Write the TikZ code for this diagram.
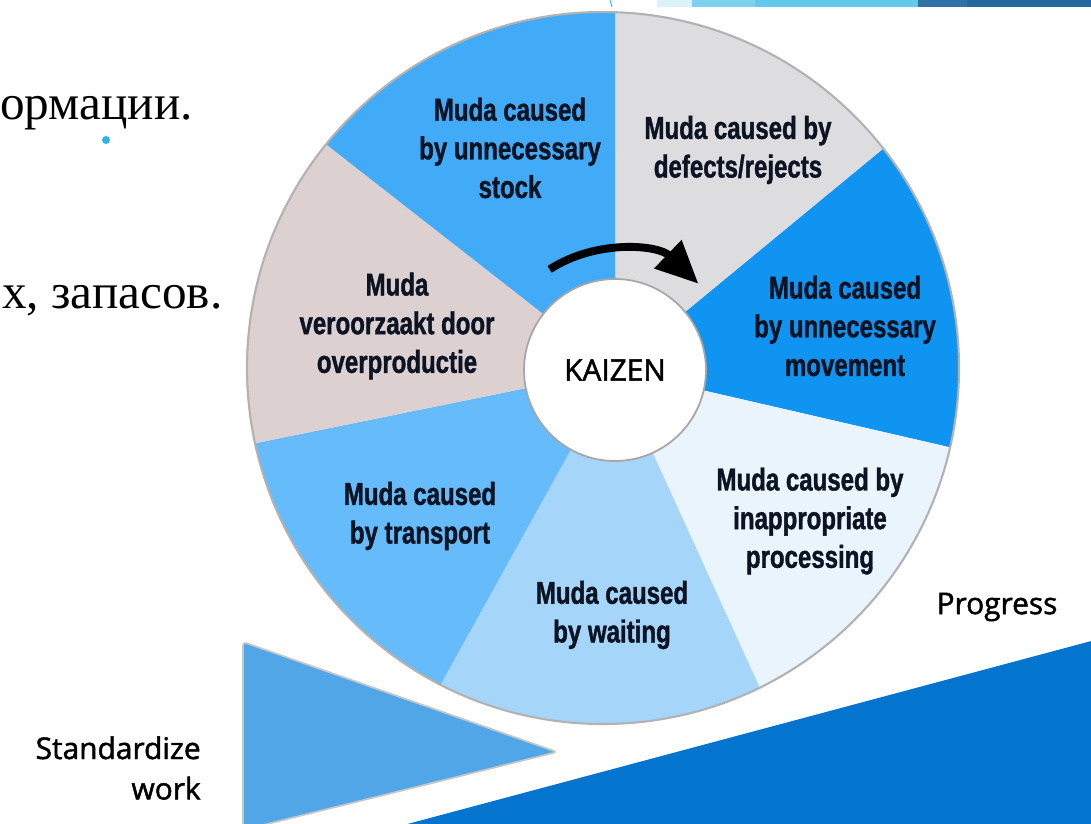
\documentclass[tikz,border=0pt]{standalone}
\usepackage{fontspec}
\usetikzlibrary{arrows.meta,calc}
\newfontfamily\mudafont[BoldFeatures={FakeStretch=0.76,FakeBold=1.2}]{Liberation Sans}
\newfontfamily\labfont[FakeBold=1.6]{Open Sans}
\newfontfamily\slidefont{Liberation Serif}
\definecolor{stockblue}{RGB}{66,171,248}
\definecolor{defectgray}{RGB}{221,221,223}
\definecolor{moveblue}{RGB}{16,148,242}
\definecolor{procblue}{RGB}{233,244,253}
\definecolor{waitblue}{RGB}{166,213,250}
\definecolor{transblue}{RGB}{102,187,250}
\definecolor{overpink}{RGB}{221,208,208}
\definecolor{stdblue}{RGB}{80,166,230}
\definecolor{progblue}{RGB}{4,117,207}
\definecolor{barA}{RGB}{220,242,250}
\definecolor{barB}{RGB}{124,209,238}
\definecolor{barC}{RGB}{98,200,236}
\definecolor{barD}{RGB}{46,115,166}
\definecolor{barE}{RGB}{37,103,158}
\definecolor{dotcyan}{RGB}{41,182,230}
\definecolor{inkblue}{RGB}{12,20,36}
\tikzset{
  muda/.style={font=\mudafont\bfseries\fontsize{18}{22}\selectfont, align=center, text=inkblue, inner sep=0pt},
  side/.style={font=\labfont\fontsize{17}{23}\selectfont, text=black, inner sep=0pt},
  slidetext/.style={font=\slidefont\fontsize{28}{32}\selectfont, text=black, inner sep=0pt},
  hub/.style={circle, draw=gray!70, line width=1pt, fill=white, minimum size=3.64cm,
    font=\labfont\fontsize{17}{20}\selectfont, text=black},
  turnarrow/.style={line width=4.5pt, black, -{Triangle[length=0.85cm, width=0.75cm]}},
}

\begin{document}
\begin{tikzpicture}[x=0.02cm, y=-0.02cm]
\useasboundingbox (0,0) rectangle (1091,824);
\clip (0,0) rectangle (1091,824);

% top of slide
\fill[barA] (657,0) rectangle (692,7);
\fill[barB] (692,0) rectangle (755,7);
\fill[barC] (755,0) rectangle (918,7);
\fill[barD] (918,0) rectangle (967,7);
\fill[barE] (967,0) rectangle (1091,7);
\draw[dotcyan, line width=0.5pt] (610,0) -- (612,7);

% slide text
\node[slidetext, anchor=base west] (line1) at (0,120) {ормации.};
\node[slidetext, anchor=base west] (line2) at (2,308) {х, запасов.};
\fill[dotcyan] (106,140) circle [radius=4];

% bottom shapes
\fill[progblue] (385,830) -- (1095,640) -- (1095,830) -- cycle;
\filldraw[stdblue, draw=gray!45, line width=1pt, rounded corners=2pt] (243,642) -- (557,752) -- (243,830) -- cycle;

% wheel
\coordinate (ctr) at (615,370);
\coordinate (rim) at (603,368);
\begin{scope}
  \clip (rim) circle [radius=356];
  \foreach \a/\b/\c in {-90/-39.5/defectgray, -39.5/13/moveblue, 13/65.5/procblue,
      65.5/119/waitblue, 119/168.5/transblue, 168.5/218/overpink, 218/270/stockblue}
    \fill[\c] (ctr) -- +(\a:900) -- +(\b:900) -- cycle;
\end{scope}
\draw[gray!60, line width=1.2pt] (rim) circle [radius=356];

\node[hub] (kaizen) at (ctr) {KAIZEN};
\draw[turnarrow] ($(ctr)+(-123:120)$) arc [start angle=-123, end angle=-46, radius=120];

\node[muda] (stock) at (510,148) {Muda caused\\by unnecessary\\stock};
\node[muda] (defects) at (738,150) {Muda caused by\\defects/rejects};
\node[muda] (movement) at (845,326) {Muda caused\\by unnecessary\\movement};
\node[muda] (processing) at (810,521) {Muda caused by\\inappropriate\\processing};
\node[muda] (waiting) at (612,615) {Muda caused\\by waiting};
\node[muda] (transport) at (420,516) {Muda caused\\by transport};
\node[muda] (overprod) at (397,326) {Muda\\veroorzaakt door\\overproductie};

\node[side] (progress) at (997,607) {Progress};
\node[side, align=right, anchor=east] (standard) at (201,768) {Standardize\\work};
\end{tikzpicture}
\end{document}
